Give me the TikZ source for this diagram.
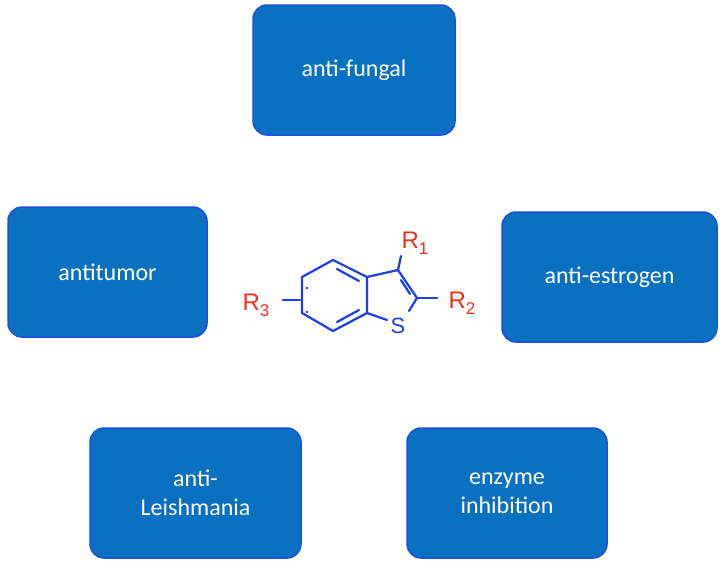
\documentclass[tikz,border=0pt]{standalone}
\usepackage{fontspec}
\setmainfont{Carlito}
\newfontfamily\chemf{Liberation Sans}
\definecolor{boxfill}{HTML}{0A70C0}
\definecolor{boxdraw}{HTML}{1A4FE0}
\definecolor{molblue}{HTML}{1A3FE6}
\definecolor{molred}{HTML}{F0301A}
\newcommand{\rsub}[1]{\raisebox{-6pt}{\fontsize{17}{17}\selectfont #1}}
\begin{document}
\begin{tikzpicture}[x=1pt,y=-1pt,
  box/.style={draw=boxdraw,line width=1.5pt,fill=boxfill,rounded corners=14pt,text=white,font=\fontsize{24}{29}\selectfont,align=center,inner sep=0pt},
  bond/.style={molblue,line width=2.2pt,line cap=round,line join=round},
  rlab/.style={molred,font=\chemf\fontsize{24}{28}\selectfont,inner sep=0pt}]
\useasboundingbox (0,0) rectangle (722,565);
\node[box,minimum width=202pt,minimum height=130pt] (af) at (354,70) {anti-fungal};
\node[box,minimum width=199pt,minimum height=130pt] (at) at (107.5,272) {antitumor};
\node[box,minimum width=215pt,minimum height=130pt] (ae) at (609.5,277) {anti-estrogen};
\node[box,minimum width=211pt,minimum height=130pt] (al) at (195.5,493) {anti-\\Leishmania};
\node[box,minimum width=200pt,minimum height=130pt] (ei) at (507,493) {enzyme\\inhibition};
% molecule
\coordinate (a1) at (333,260);
\coordinate (a2) at (302,277);
\coordinate (a3) at (302,313);
\coordinate (a4) at (333,331);
\coordinate (a5) at (367,313);
\coordinate (a6) at (367,277);
\coordinate (c3) at (398,270);
\coordinate (c2) at (417,298);
\draw[bond] (a6)--(a1)--(a2)--(a3)--(a4)--(a5)--(a6)--(c3)--(c2)--(409,311);
\draw[bond] (a5)--(387,320);
\draw[bond] (337,269)--(359,281);
\draw[bond] (337,322)--(359,310);
\draw[bond] (401,280)--(410,294);
\draw[bond] (c3)--(401,256);
\draw[bond] (c2)--(437,298);
\draw[bond] (283,300)--(300,300);
\fill[molblue] (307,288) circle (1.3pt) (307,312) circle (1.3pt);
\node[molblue,font=\chemf\fontsize{22}{26}\selectfont,inner sep=0pt] (S) at (398,326) {S};
\node[rlab] (r1) at (415,243) {R\rsub{1}};
\node[rlab] (r2) at (462,303) {R\rsub{2}};
\node[rlab] (r3) at (256,305) {R\rsub{3}};
\end{tikzpicture}
\end{document}
